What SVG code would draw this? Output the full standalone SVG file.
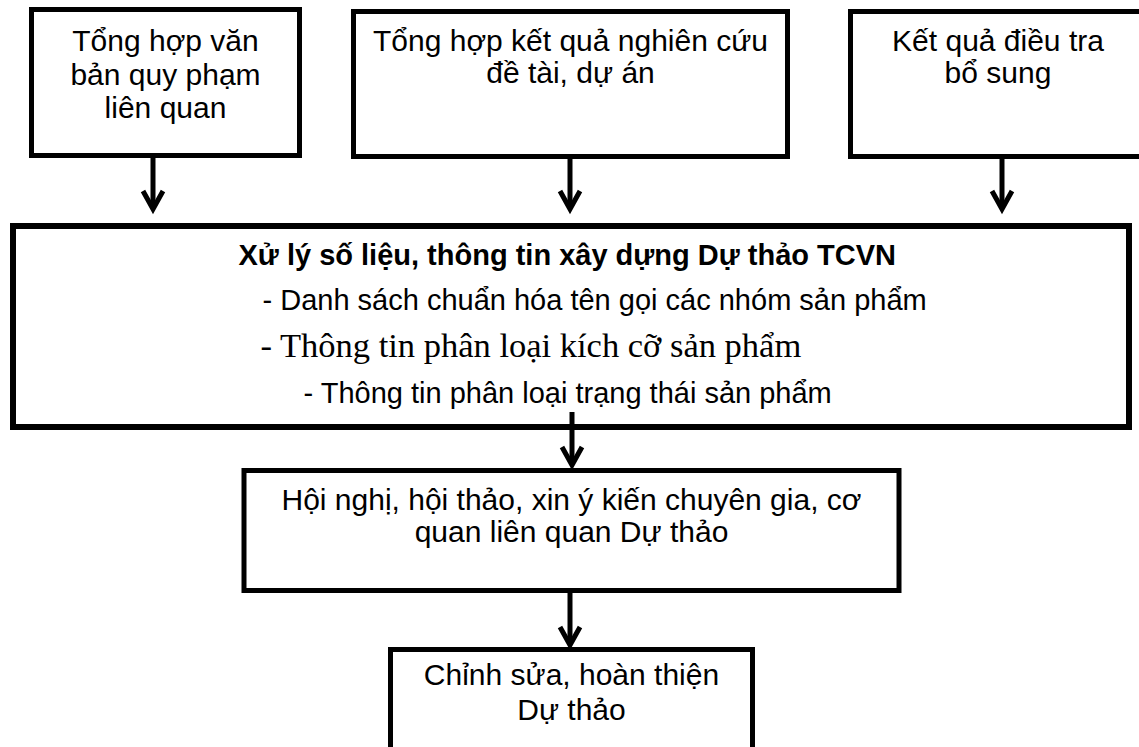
<svg xmlns="http://www.w3.org/2000/svg" width="1139" height="747" viewBox="0 0 1139 747">
<style>
.box{fill:#fff;stroke:#000;stroke-width:5}
.big{fill:#fff;stroke:#000;stroke-width:6}
.t{font-family:"Liberation Sans",Arial,sans-serif;font-size:30px;fill:#000;text-anchor:middle}
.s{font-family:"Liberation Sans",Arial,sans-serif;font-size:29px;fill:#000}
.b{font-weight:bold}
.serif{font-family:"Liberation Serif","Times New Roman",serif;font-size:34.5px;fill:#000}
.c{stroke:#000;stroke-width:5;fill:none}
</style>
<defs>
<marker id="arr" viewBox="-2 -2 26 26" markerWidth="26" markerHeight="26" refX="19" refY="11" orient="auto" markerUnits="userSpaceOnUse" overflow="visible">
<path d="M1,1 L19,11 L1,21" fill="none" stroke="#000" stroke-width="5" stroke-linejoin="miter"/>
</marker>
</defs>
<rect width="1139" height="747" fill="#fff"/>
<g id="n1">
<rect class="box" x="31.5" y="9.5" width="268" height="146"/>
<text class="t" x="165.5" y="51">Tổng hợp văn</text>
<text class="t" x="165.5" y="85">bản quy phạm</text>
<text class="t" x="165.5" y="118">liên quan</text>
</g>
<g id="n2">
<rect class="box" x="353.5" y="11.5" width="434" height="145"/>
<text class="t" x="570.5" y="51">Tổng hợp kết quả nghiên cứu</text>
<text class="t" x="570.5" y="83">đề tài, dự án</text>
</g>
<g id="n3">
<rect class="box" x="850.5" y="11.5" width="296" height="145"/>
<text class="t" x="998" y="51">Kết quả điều tra</text>
<text class="t" x="998" y="83">bổ sung</text>
</g>
<g id="n4">
<rect class="big" x="13" y="226" width="1116" height="201"/>
<text class="s b" x="238.5" y="265">Xử lý số liệu, thông tin xây dựng Dự thảo TCVN</text>
<text class="s" x="262.5" y="310">- Danh sách chuẩn hóa tên gọi các nhóm sản phẩm</text>
<text class="serif" x="260.5" y="357">- Thông tin phân loại kích cỡ sản phẩm</text>
<text class="s" x="303.5" y="403">- Thông tin phân loại trạng thái sản phẩm</text>
</g>
<g id="n5">
<rect class="box" x="244" y="470.5" width="655" height="120"/>
<text class="t" x="571.5" y="510">Hội nghị, hội thảo, xin ý kiến chuyên gia, cơ</text>
<text class="t" x="571.5" y="542">quan liên quan Dự thảo</text>
</g>
<g id="n6">
<rect class="box" x="390.5" y="649.5" width="362" height="150"/>
<text class="t" x="571.5" y="685">Chỉnh sửa, hoàn thiện</text>
<text class="t" x="571.5" y="720">Dự thảo</text>
</g>
<g id="connectors">
<line class="c" x1="153" y1="158" x2="153" y2="209" marker-end="url(#arr)"/>
<line class="c" x1="570" y1="159" x2="570" y2="209" marker-end="url(#arr)"/>
<line class="c" x1="1002" y1="159" x2="1002" y2="209" marker-end="url(#arr)"/>
<line class="c" x1="572" y1="412" x2="572" y2="465" marker-end="url(#arr)"/>
<line class="c" x1="570" y1="593" x2="570" y2="645" marker-end="url(#arr)"/>
</g>
</svg>
